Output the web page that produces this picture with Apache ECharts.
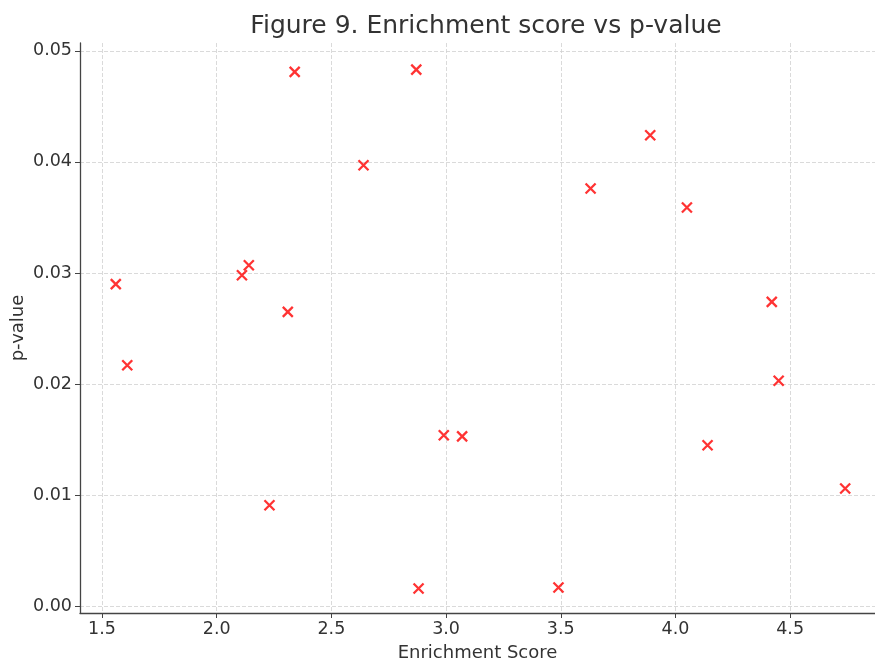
<!DOCTYPE html>
<html><head><meta charset="utf-8">
<script src="https://cdn.jsdelivr.net/npm/echarts@6/dist/echarts.min.js"></script>
<style>html,body{margin:0;padding:0;background:#fff}#c{width:875px;height:662px}</style>
</head><body><div id="c"></div>
<script>
const enrichment = [1.56, 1.61, 2.11, 2.14, 2.31, 2.23, 2.34, 2.64, 2.87, 2.88, 2.99, 3.07, 3.49, 3.63, 3.89, 4.05, 4.14, 4.42, 4.45, 4.74];
const pvalues = [0.0290, 0.0217, 0.0298, 0.0307, 0.0265, 0.0091, 0.0481, 0.0397, 0.0483, 0.0016, 0.0154, 0.0153, 0.0017, 0.0376, 0.0424, 0.0359, 0.0145, 0.0274, 0.0203, 0.0106];
const xTicks = [1.5, 2.0, 2.5, 3.0, 3.5, 4.0, 4.5];
const yTicks = [0.00, 0.01, 0.02, 0.03, 0.04, 0.05];

const chart = echarts.init(document.getElementById('c'));
const font = 'DejaVu Sans';
chart.setOption({
  animation: false,
  title: {
    text: 'Figure 9. Enrichment score vs p-value',
    left: 481, top: 9, textAlign: 'center',
    textStyle: {fontFamily: font, fontSize: 25, fontWeight: 'normal', color: '#333'}
  },
  grid: {left: 80, right: 0, top: 43, bottom: 49, containLabel: false, outerBoundsMode: 'none'},
  xAxis: {
    type: 'value', min: 1.404, max: 4.87,
    name: 'Enrichment Score', nameLocation: 'middle', nameGap: 31,
    nameTextStyle: {fontFamily: font, fontSize: 18, color: '#333'},
    axisLine: {show: true, onZero: false, lineStyle: {color: '#444', width: 1.3}},
    axisTick: {show: true, length: 5, customValues: xTicks, lineStyle: {color: '#444'}},
    axisLabel: {customValues: xTicks, fontFamily: font, fontSize: 17.5, color: '#333', margin: 7,
      formatter: v => v.toFixed(1)},
    splitLine: {show: true, showMinLine: true, showMaxLine: true, lineStyle: {color: '#d0d0d0', type: [4, 2], width: 0.8}}
  },
  yAxis: {
    type: 'value', min: -0.0006, max: 0.0507,
    name: 'p-value', nameLocation: 'middle', nameGap: 53, nameMoveOverlap: false,
    nameTextStyle: {fontFamily: font, fontSize: 18, color: '#333'},
    axisLine: {show: true, onZero: false, lineStyle: {color: '#444', width: 1.3}},
    axisTick: {show: true, length: 5, customValues: yTicks, lineStyle: {color: '#444'}},
    axisLabel: {customValues: yTicks, fontFamily: font, fontSize: 17.5, color: '#333', margin: 8,
      formatter: v => v.toFixed(2)},
    splitLine: {show: true, showMinLine: true, showMaxLine: true, lineStyle: {color: '#d0d0d0', type: [4, 2], width: 0.8}}
  },
  series: [{
    type: 'scatter',
    data: enrichment.map((x, i) => [x, pvalues[i]]),
    symbol: 'path://M0,0L10,10M10,0L0,10',
    symbolSize: 10,
    itemStyle: {color: 'rgba(0,0,0,0)', borderColor: '#ff0000', borderWidth: 2.3}
  }]
});
</script></body></html>
